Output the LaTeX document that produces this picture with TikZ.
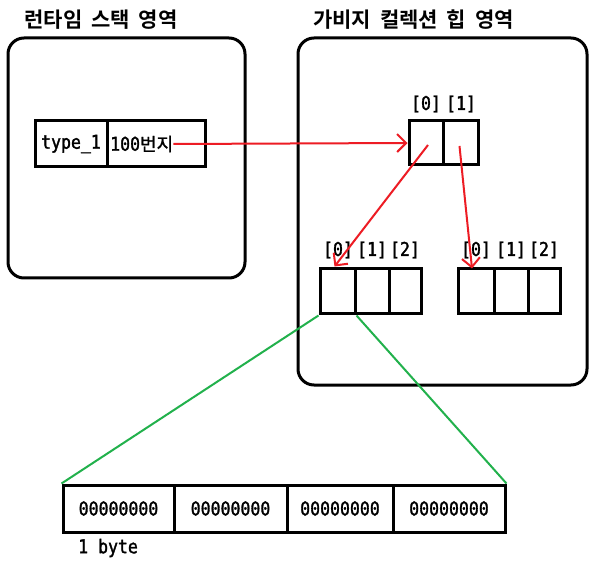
\documentclass[tikz,border=0pt]{standalone}
\usepackage{fontspec}
\newfontfamily\monob[FakeStretch=0.87,FakeBold=1.6]{DejaVu Sans Mono}
\newfontfamily\kr[FakeBold=1.2]{Noto Sans CJK KR}
\newfontfamily\krb{Noto Sans CJK KR Bold}
\newcommand\widesp{\spaceskip=9pt\relax}
\usetikzlibrary{arrows.meta,calc}
\definecolor{myred}{RGB}{237,28,36}
\definecolor{mygreen}{RGB}{34,177,76}
\begin{document}
\begin{tikzpicture}[x=1pt,y=-1pt,
  region/.style={draw,line width=3pt,rounded corners=16pt,inner sep=0pt},
  cell/.style={draw,line width=3pt,inner sep=0pt,font=\monob\fontsize{19}{20}\selectfont},
  lbl/.style={inner sep=0pt,font=\monob\fontsize{19}{20}\selectfont},
  ttl/.style={inner sep=0pt,font=\krb\fontsize{21}{24}\selectfont},
  redarr/.style={draw=myred,line width=2pt,-{Straight Barb[length=9pt,width=18pt,line width=2pt]}},
  grn/.style={draw=mygreen,line width=2pt}]
\useasboundingbox (0,0) rectangle (606,567);
\fill[white] (0,0) rectangle (606,567);
% titles
\node[ttl] (t1title) at (101,20) {\widesp 런타임 스택 영역};
\node[ttl] (t2title) at (413.5,20) {\widesp 가비지 컬렉션 힙 영역};
% regions
\node[region,minimum width=237,minimum height=240] (stack) at (126.5,158) {};
\node[region,minimum width=289,minimum height=347] (heap) at (442.5,211.5) {};
% stack cells
\node[cell,minimum width=72,minimum height=46] (ty) at (71,144) {type\_1};
\node[cell,minimum width=98,minimum height=46] (ad) at (156,144) {};
\node[lbl,anchor=west] (adtxt) at (110,144) {100{\kr\fontsize{18}{20}\selectfont 번지}};
% heap top array
\node[cell,minimum width=34,minimum height=44] (h0) at (426,143) {};
\node[cell,minimum width=35,minimum height=44] (h1) at (460.5,143) {};
\node[lbl] (lh0) at (426,104) {[0]};
\node[lbl] (lh1) at (461,104) {[1]};
% left 3-array
\node[cell,minimum width=35,minimum height=45] (a0) at (337.5,291.5) {};
\node[cell,minimum width=34,minimum height=45] (a1) at (372,291.5) {};
\node[cell,minimum width=32,minimum height=45] (a2) at (405,291.5) {};
\node[lbl] (la0) at (338,250) {[0]};
\node[lbl] (la1) at (372,250) {[1]};
\node[lbl] (la2) at (405,250) {[2]};
% right 3-array
\node[cell,minimum width=36,minimum height=45] (b0) at (476,291.5) {};
\node[cell,minimum width=34,minimum height=45] (b1) at (511,291.5) {};
\node[cell,minimum width=32,minimum height=45] (b2) at (544,291.5) {};
\node[lbl] (lb0) at (476,250) {[0]};
\node[lbl] (lb1) at (511,250) {[1]};
\node[lbl] (lb2) at (544,250) {[2]};
% bytes
\node[cell,minimum width=111,minimum height=47] (y0) at (118.5,508.5) {00000000};
\node[cell,minimum width=113,minimum height=47] (y1) at (230.5,508.5) {00000000};
\node[cell,minimum width=106,minimum height=47] (y2) at (340,508.5) {00000000};
\node[cell,minimum width=112,minimum height=47] (y3) at (449,508.5) {00000000};
\node[lbl,anchor=west] (byte) at (78,548) {1 byte};
% arrows
\draw[redarr] (adtxt.east) -- (h0.west);
\draw[redarr] ($(h0.center)+(2,2)$) -- ($(a0.north)+(-3,-1)$);
\draw[redarr] ($(h1.center)+(-1,3)$) -- ($(b0.north)+(-4,1)$);
% green
\draw[grn] (a0.south west) -- (y0.north west);
\draw[grn] (a0.south east) -- (y3.north east);
\end{tikzpicture}
\end{document}
